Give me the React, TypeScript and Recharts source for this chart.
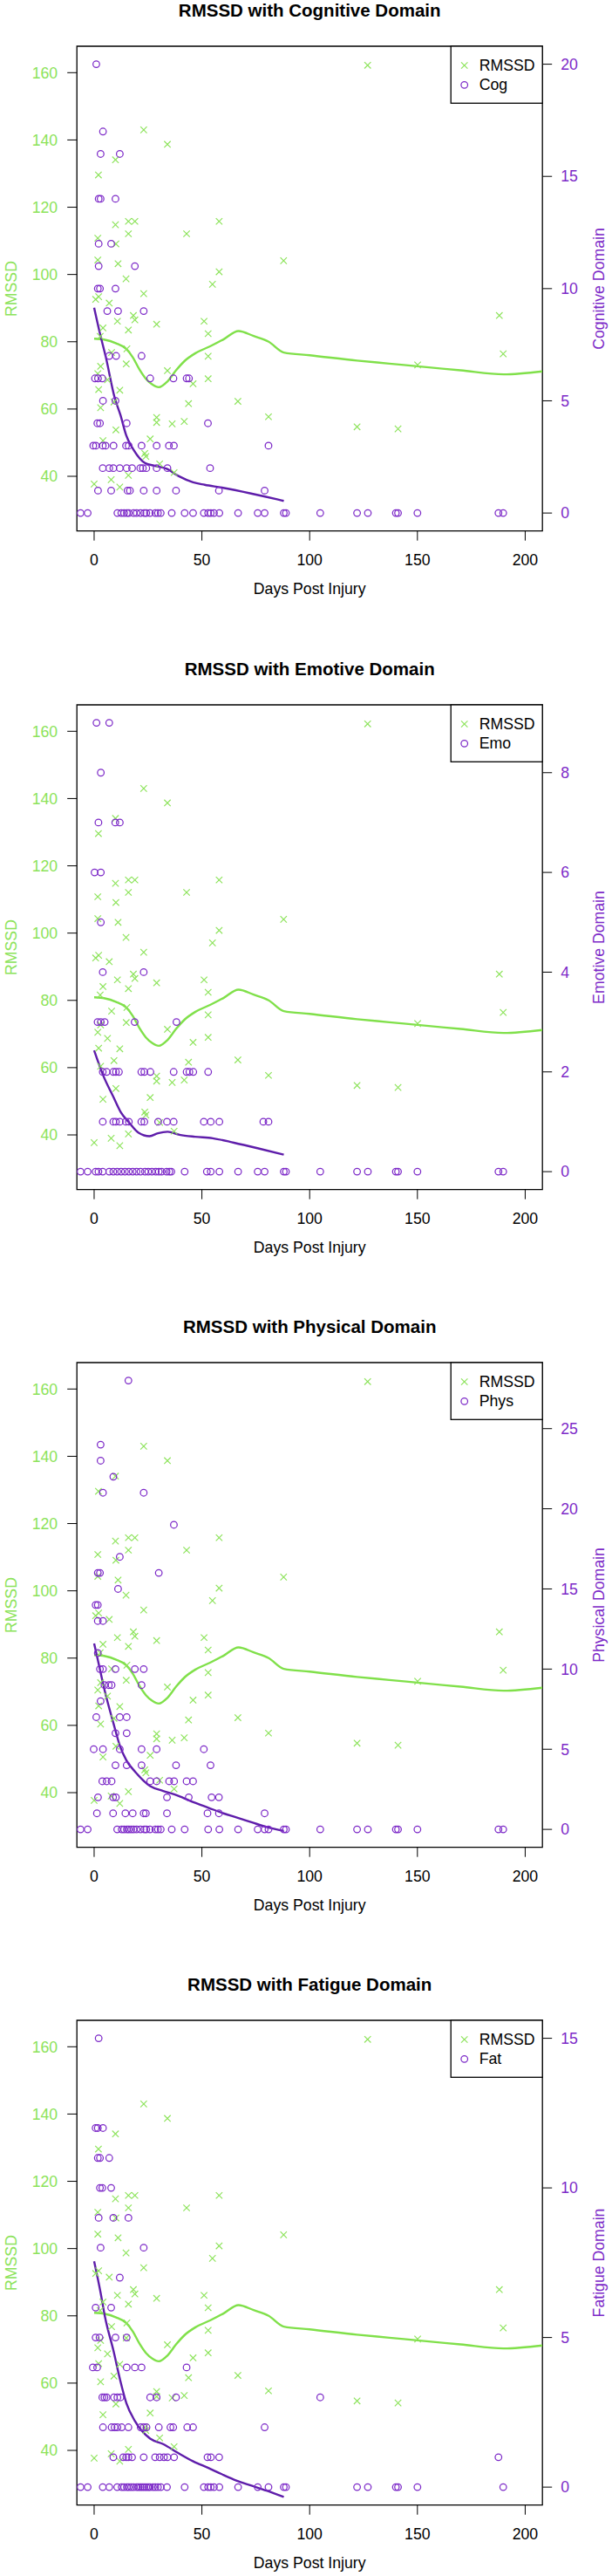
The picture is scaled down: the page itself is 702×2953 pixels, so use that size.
import React from 'react';
import { ComposedChart, Scatter, Line, XAxis, YAxis, ReferenceArea } from 'recharts';

const FONT = '"Liberation Sans", Arial, Helvetica, sans-serif';
const GREEN = '#8CE35A';
const GREEN_LINE = '#80E04A';
const PURPLE = '#7D2AC8';
const PURPLE_LINE = '#5E1DAA';
const BLACK = '#000';

// ---- RMSSD observations (same in every panel) ----
const rmssdDays = [0, 0.7, 2.1, 2, 1.7, 1.7, 1.7, 2.1, 3, 3, 2.8, 4.1, 4.1, 6.2, 7, 8.1, 7.9, 9.2, 9.9, 9.9, 10.1, 10.1, 11.1, 10.8, 11.9, 11.9, 14.8, 15.2, 14.9, 15.9, 15.9, 15.9, 15.9, 18.2, 18.9, 18.9, 23, 23, 23.5, 24, 26, 29, 29, 29, 30.4, 34, 34, 36.2, 37.1, 41.8, 42.9, 43.8, 45.9, 51, 52.9, 52.9, 52.9, 54.9, 58, 58, 66.7, 80.9, 87.9, 122, 126.9, 141, 150.1, 188, 189.8];
const rmssdValues = [37.7, 92.6, 93.4, 129.6, 110.8, 104.3, 70.5, 65.8, 72.7, 60.4, 81.6, 84.1, 50.6, 68.7, 91.5, 76.8, 39.0, 62.1, 134.1, 114.8, 109.1, 53.8, 103.2, 86.1, 65.6, 36.8, 98.7, 77.9, 73.4, 115.8, 112.1, 83.5, 40.3, 87.8, 115.8, 86.5, 143.0, 94.3, 46.8, 45.9, 51.1, 85.2, 57.5, 56.0, 43.7, 138.7, 71.4, 55.6, 41.1, 56.3, 112.1, 61.6, 67.5, 86.1, 82.4, 75.7, 69.0, 97.1, 115.8, 100.8, 62.3, 57.7, 104.1, 54.7, 162.2, 54.1, 73.1, 87.8, 76.4];

// ---- RMSSD smoothed curve ----
const rmssdSmoothDays = [0, 5, 10, 15, 18, 21, 24, 27, 30, 34, 38, 42, 47, 54, 60, 67, 74, 81, 88, 100, 122, 137, 150, 170, 190, 208];
const rmssdSmoothValues = [80.9, 80.6, 79.6, 77.8, 75.3, 71.8, 69.0, 67.3, 66.5, 68.2, 71.5, 74.3, 76.6, 78.7, 80.7, 83.2, 81.7, 80.0, 76.8, 76.0, 74.4, 73.5, 72.7, 71.5, 70.3, 71.2];

// ---- Domain scores: [score, days with that score] ----
const cogRows: [number, number[]][] = [
  [20, [1]], [17, [4.1]], [16, [3, 11.9]], [14, [2.1, 3, 9.9]], [12, [2.1, 7.9]], [11, [2.1, 18.9]],
  [10, [1.7, 2.7, 9.9]], [9, [6.1, 11.1, 23]], [7, [7, 10.2, 22]],
  [6, [0.4, 1.8, 3.8, 26, 36.8, 42.9, 44]], [5, [4.1, 9.9]], [4, [1.5, 2.7, 15.1, 52.8]],
  [3, [-0.4, 0.8, 4, 5.3, 9, 14.8, 16, 22, 29, 34.7, 37, 80.9]],
  [2, [4, 7, 8.9, 11.9, 15.1, 17.6, 21.4, 22.6, 24.2, 29, 34, 53.8]],
  [1, [1.8, 7.9, 15.5, 16.6, 23, 29, 38, 57.9, 79.1]],
  [0, [-6.3, -3, 10.8, 12.6, 13.9, 15.2, 16.1, 18.3, 19.7, 21.5, 23.3, 24.2, 25.9, 28.4, 29.6, 30.9, 36, 42, 45.9, 50.9, 52.9, 54.1, 55.6, 58.1, 66.8, 75.9, 79.1, 88, 89, 104.9, 122, 127, 140, 141, 150, 187.6, 189.8]],
];
const emoRows: [number, number[]][] = [
  [9, [1.1, 7]], [8, [3.1]], [7, [2, 9.8, 11.9]], [6, [0.2, 3.1]], [5, [3.1]], [4, [4, 23]],
  [3, [1.6, 3.1, 4.9, 18.8, 38.2]],
  [2, [4, 5.8, 8.9, 10.1, 11.5, 21.9, 23.3, 26.1, 36.9, 42.9, 44.2, 46, 52.9]],
  [1, [4, 8.9, 10.1, 11.9, 14.7, 16.1, 21.9, 23.3, 29.7, 33.8, 36.9, 50.9, 54.1, 58.1, 78.5, 80.9]],
  [0, [-6.3, -3, 0.7, 2, 4, 7, 8.9, 10.7, 12.5, 14.3, 16.1, 17.9, 19.7, 21.5, 23.6, 25.1, 26.8, 28.6, 30, 31.3, 33.6, 34.9, 35.8, 42, 52.3, 54.1, 58.1, 66.8, 75.9, 79.1, 88, 89, 104.9, 122, 127, 140, 141, 150, 187.6, 189.8]],
];
const physRows: [number, number[]][] = [
  [28, [15.9]], [24, [3]], [23, [3]], [22, [8.9]], [21, [4.1, 23]], [19, [37]], [17, [11.9]],
  [16, [1.7, 2.7, 30]], [15, [11.1]], [14, [0.7, 1.7]], [13, [1.7, 4.1]], [11, [1.7]],
  [10, [2.7, 4.1, 9.9, 18.9, 23]], [9, [4.8, 6.8, 8.1, 22]], [8, [3]], [7, [1, 11.9, 15.1]],
  [6, [9.9, 15.1]], [5, [-0.2, 4.1, 11.9, 22, 29, 50.9]], [4, [9.9, 15.1, 22, 38, 54]],
  [3, [3.8, 5.8, 8.1, 26, 29, 34.8, 37.1, 42.9, 45.9]],
  [2, [1.8, 8.8, 10.1, 33.8, 43.9, 54.5, 57.9]],
  [1, [1.3, 8.8, 14.5, 17.9, 23, 24, 33.8, 52.6, 57.9, 79.1]],
  [0, [-6.3, -3, 10.7, 12.8, 13.9, 15.2, 16.1, 17.2, 18.3, 19.7, 21.5, 23.3, 24.2, 25.9, 28.4, 29.6, 30.9, 36, 42, 52.9, 58.1, 66.8, 75.9, 79.1, 80.9, 88, 89, 104.9, 122, 127, 140, 141, 150, 187.6, 189.8]],
];
const fatRows: [number, number[]][] = [
  [15, [2.1]], [12, [0.7, 1.7, 4.1]], [11, [1.7, 2.7, 7]], [10, [2.7, 3.8, 7.9]],
  [9, [2.1, 8.9, 15.9]], [8, [3, 23]], [7, [11.9]], [6, [0.7, 7.9]], [5, [0.7, 2.5, 9.9, 15.1]],
  [4, [-0.6, 1.4, 15.1, 18.9, 22, 42.9]],
  [3, [3.8, 4.8, 5.8, 9.2, 10.8, 12.2, 26, 29, 38, 104.9]],
  [2, [4.1, 8.1, 9.5, 10.8, 12.8, 15.9, 21.6, 23, 24.3, 30, 35.4, 36.7, 43.2, 45.9, 79.1]],
  [1, [8.9, 13.5, 14.9, 15.9, 17.6, 23, 28.3, 30.4, 32.4, 34, 37.1, 52.6, 54.2, 58, 187.6]],
  [0, [-6.3, -3, 4, 7, 10.7, 12.8, 13.9, 15.2, 16.1, 17.2, 18.3, 19.7, 20.6, 21.5, 22.4, 23.3, 24.2, 25.1, 25.9, 27.3, 28.4, 29.6, 30.9, 33.8, 42, 50.9, 52.9, 54.1, 55.6, 58.1, 66.8, 75.9, 80.9, 88, 89, 122, 127, 140, 141, 150, 189.8]],
];

// ---- Domain smoothed curves ----
const cogSmoothDays = [0, 2.7, 5.4, 9.5, 12.2, 14.9, 18.3, 23.6, 28.3, 33.7, 39.1, 45.9, 51.3, 59.3, 72.8, 84.9, 88];
const cogSmoothValues = [9.15, 8.0, 6.96, 5.15, 4.37, 3.46, 2.82, 2.23, 2.1, 1.97, 1.65, 1.37, 1.26, 1.13, 0.87, 0.61, 0.54];
const emoSmoothDays = [0, 4.3, 8.8, 12.4, 16.1, 20.6, 25.7, 29.6, 34.1, 39.6, 46.8, 55, 64.9, 75.8, 88];
const emoSmoothValues = [2.43, 1.92, 1.51, 1.19, 0.99, 0.78, 0.71, 0.77, 0.8, 0.74, 0.7, 0.67, 0.58, 0.47, 0.34];
const physSmoothDays = [0, 2, 5, 9, 12, 15, 19, 26, 32, 39, 46, 53, 60, 66, 73, 80, 88];
const physSmoothValues = [11.6, 10.4, 8.6, 6.6, 5.2, 4.3, 3.6, 2.7, 2.4, 2.1, 1.7, 1.35, 1.0, 0.75, 0.45, 0.15, -0.1];
const fatSmoothDays = [0, 3, 5, 9, 12, 15, 19, 26, 32, 39, 46, 53, 59, 66, 73, 80, 88];
const fatSmoothValues = [7.55, 6.5, 5.7, 4.55, 3.6, 2.8, 2.2, 1.62, 1.44, 1.14, 0.86, 0.64, 0.44, 0.22, 0.05, -0.12, -0.33];

// ---- Axes ----
const xTicks = [0, 50, 100, 150, 200];
const leftTicks = [40, 60, 80, 100, 120, 140, 160];
const titles = ['RMSSD with Cognitive Domain', 'RMSSD with Emotive Domain', 'RMSSD with Physical Domain', 'RMSSD with Fatigue Domain'];
const domainLabels = ['Cognitive Domain', 'Emotive Domain', 'Physical Domain', 'Fatigue Domain'];
const legendNames = ['Cog', 'Emo', 'Phys', 'Fat'];
const rightTicks = [[0, 5, 10, 15, 20], [0, 2, 4, 6, 8], [0, 5, 10, 15, 20, 25], [0, 5, 10, 15]];
const rightDomains: [number, number][] = [[-0.8, 20.8], [-0.36, 9.36], [-1.12, 29.12], [-0.6, 15.6]];

const rmssdPts = rmssdDays.map((d, i) => ({ day: d, v: rmssdValues[i] }));
const rmssdSmooth = rmssdSmoothDays.map((d, i) => ({ day: d, v: rmssdSmoothValues[i] }));
const flatten = (rows: [number, number[]][]) => rows.flatMap(([s, ds]) => ds.map((d) => ({ day: d, v: s })));
const zip = (ds: number[], vs: number[]) => ds.map((d, i) => ({ day: d, v: vs[i] }));

const panels = [
  { pts: flatten(cogRows), smooth: zip(cogSmoothDays, cogSmoothValues) },
  { pts: flatten(emoRows), smooth: zip(emoSmoothDays, emoSmoothValues) },
  { pts: flatten(physRows), smooth: zip(physSmoothDays, physSmoothValues) },
  { pts: flatten(fatRows), smooth: zip(fatSmoothDays, fatSmoothValues) },
];

const PANEL_TOP = [0, 755, 1509, 2263];
const H = 690;
const LEFT_DOMAIN: [number, number] = [23.74, 167.86];
const X_DOMAIN: [number, number] = [-8, 208];

const XMark = (props: any) => {
  const { cx, cy } = props;
  if (cx == null || cy == null) return null;
  const s = 3.7;
  return (
    <g>
      <line x1={cx - s} y1={cy - s} x2={cx + s} y2={cy + s} stroke={GREEN} strokeWidth={1.15} />
      <line x1={cx - s} y1={cy + s} x2={cx + s} y2={cy - s} stroke={GREEN} strokeWidth={1.15} />
    </g>
  );
};
const OMark = (props: any) => {
  const { cx, cy } = props;
  if (cx == null || cy == null) return null;
  return <circle cx={cx} cy={cy} r={3.8} fill="none" stroke={PURPLE} strokeWidth={1.25} />;
};

const Panel = ({ idx }: { idx: number }) => {
  const p = panels[idx];
  return (
    <div style={{ position: 'absolute', left: 0, top: PANEL_TOP[idx], width: 702, height: H }}>
      <ComposedChart width={702} height={H} margin={{ top: 53, right: 0, left: 0, bottom: 41.3 }}>
        <XAxis
          xAxisId={0}
          dataKey="day"
          type="number"
          domain={X_DOMAIN}
          allowDataOverflow
          ticks={xTicks}
          height={40}
          axisLine={false}
          tickSize={11}
          tickMargin={16}
          tickLine={{ stroke: BLACK, strokeWidth: 1 }}
          tick={{ fill: BLACK, fontSize: 17.7, fontFamily: FONT }}
        />
        <YAxis
          yAxisId="left"
          orientation="left"
          dataKey="v"
          type="number"
          width={88.2}
          domain={LEFT_DOMAIN}
          allowDataOverflow
          ticks={leftTicks}
          axisLine={false}
          tickSize={11}
          tickMargin={11}
          tickLine={{ stroke: BLACK, strokeWidth: 1 }}
          tick={{ fill: GREEN, fontSize: 17.7, fontFamily: FONT }}
        />
        <YAxis
          yAxisId="right"
          orientation="right"
          dataKey="v"
          type="number"
          width={79.8}
          domain={rightDomains[idx]}
          allowDataOverflow
          ticks={rightTicks[idx]}
          axisLine={false}
          tickSize={11}
          tickMargin={10}
          tickLine={{ stroke: BLACK, strokeWidth: 1 }}
          tick={{ fill: PURPLE, fontSize: 17.7, fontFamily: FONT }}
        />
        <Scatter yAxisId="left" data={rmssdPts} dataKey="v" shape={XMark} isAnimationActive={false} />
        <Scatter yAxisId="right" data={p.pts} dataKey="v" shape={OMark} isAnimationActive={false} />
        <Line yAxisId="left" data={rmssdSmooth} dataKey="v" type="monotone" stroke={GREEN_LINE} strokeWidth={2.4} dot={false} activeDot={false} isAnimationActive={false} />
        <Line yAxisId="right" data={p.smooth} dataKey="v" type="monotone" stroke={PURPLE_LINE} strokeWidth={2.4} dot={false} activeDot={false} isAnimationActive={false} />
        <ReferenceArea yAxisId="left" x1={X_DOMAIN[0]} x2={X_DOMAIN[1]} y1={LEFT_DOMAIN[0]} y2={LEFT_DOMAIN[1]} fill="none" fillOpacity={0} stroke={BLACK} strokeWidth={1.3} ifOverflow="visible" />
      </ComposedChart>
      <svg width={702} height={H} style={{ position: 'absolute', left: 0, top: 0, pointerEvents: 'none', overflow: 'visible' }}>
        <text x={355.2} y={18.6} textAnchor="middle" fontFamily={FONT} fontWeight="bold" fontSize={20.5} fill={BLACK}>{titles[idx]}</text>
        <text x={355.2} y={675} textAnchor="middle" dominantBaseline="central" fontFamily={FONT} fontSize={17.7} fill={BLACK}>Days Post Injury</text>
        <text transform="translate(13.4,331) rotate(-90)" textAnchor="middle" dominantBaseline="central" fontFamily={FONT} fontSize={17.7} fill={GREEN}>RMSSD</text>
        <text transform="translate(687,331) rotate(-90)" textAnchor="middle" dominantBaseline="central" fontFamily={FONT} fontSize={17.7} fill={PURPLE}>{domainLabels[idx]}</text>
        <rect x={517.2} y={53} width={105} height={65.3} fill="#fff" stroke={BLACK} strokeWidth={1.3} />
        <line x1={529} y1={71.3} x2={536.4} y2={78.7} stroke={GREEN} strokeWidth={1.15} />
        <line x1={529} y1={78.7} x2={536.4} y2={71.3} stroke={GREEN} strokeWidth={1.15} />
        <circle cx={532.7} cy={97.3} r={3.8} fill="none" stroke={PURPLE} strokeWidth={1.25} />
        <text x={549.7} y={75} dominantBaseline="central" fontFamily={FONT} fontSize={17.7} fill={BLACK}>RMSSD</text>
        <text x={549.7} y={97.3} dominantBaseline="central" fontFamily={FONT} fontSize={17.7} fill={BLACK}>{legendNames[idx]}</text>
      </svg>
    </div>
  );
}

export default function App() {
  return (
    <div style={{ position: 'absolute', left: 0, top: 0, width: 702, height: 2953, overflow: 'hidden', background: '#fff' }}>
      {[0, 1, 2, 3].map((i) => (
        <Panel key={i} idx={i} />
      ))}
    </div>
  );
}
